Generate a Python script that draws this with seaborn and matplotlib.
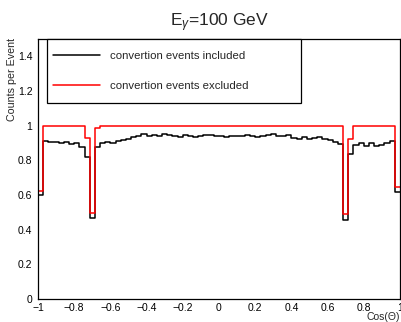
import numpy as np
import pandas as pd
import matplotlib
matplotlib.use("Agg")
import matplotlib.pyplot as plt
from matplotlib.lines import Line2D
from matplotlib.patches import Rectangle
from matplotlib.ticker import MultipleLocator, FuncFormatter
import seaborn as sns

# ---- data (70 bins in cos(theta) from -1 to 1) ----
n_bins = 70
x_min, x_max = -1.0, 1.0

included = [
    0.600, 0.912, 0.905, 0.908, 0.898, 0.903, 0.896, 0.902, 0.878, 0.822,
    0.466, 0.876, 0.900, 0.905, 0.898, 0.910, 0.920, 0.925, 0.935, 0.940,
    0.950, 0.942, 0.945, 0.938, 0.950, 0.944, 0.940, 0.936, 0.945, 0.941,
    0.935, 0.938, 0.945, 0.946, 0.942, 0.940, 0.935, 0.940, 0.943, 0.938,
    0.945, 0.940, 0.932, 0.940, 0.945, 0.950, 0.942, 0.938, 0.944, 0.930,
    0.925, 0.935, 0.925, 0.930, 0.932, 0.922, 0.915, 0.908, 0.895, 0.456,
    0.835, 0.890, 0.900, 0.880, 0.898, 0.885, 0.890, 0.900, 0.910, 0.615,
]
excluded = [
    0.625, 1.000, 0.998, 1.000, 0.999, 0.998, 0.997, 0.998, 0.996, 0.930,
    0.498, 0.988, 0.997, 1.000, 0.999, 1.000, 0.998, 1.000, 1.000, 0.999,
    0.998, 1.000, 0.997, 0.999, 1.000, 0.998, 0.996, 0.999, 1.000, 0.998,
    0.997, 1.000, 0.999, 0.998, 1.000, 0.997, 0.999, 1.000, 0.998, 0.996,
    0.999, 1.000, 0.997, 0.998, 1.000, 0.999, 0.997, 0.998, 0.997, 0.996,
    0.997, 0.999, 0.996, 0.997, 0.998, 0.999, 0.999, 0.998, 0.997, 0.489,
    0.925, 1.000, 0.999, 1.000, 0.998, 1.000, 0.999, 1.000, 0.998, 0.645,
]
labels = ["convertion events included", "convertion events excluded"]
colors = ["black", "red"]
title = r"E$_{\gamma}$=100 GeV"
xlabel = "Cos(\u0398)"
ylabel = "Counts per Event"

edges = np.linspace(x_min, x_max, n_bins + 1)
centers = 0.5 * (edges[:-1] + edges[1:])
df = pd.DataFrame({
    "cos": np.concatenate([centers, centers]),
    "w": np.concatenate([included, excluded]),
    "set": [labels[0]] * n_bins + [labels[1]] * n_bins,
})

sns.set_theme(style="white")
plt.rcParams["font.family"] = ["Liberation Sans", "DejaVu Sans"]
plt.rcParams["mathtext.fontset"] = "custom"
plt.rcParams["mathtext.rm"] = "Liberation Sans"
plt.rcParams["mathtext.it"] = "Liberation Sans:italic"

W, H = 402, 322
L, R, T, B = 38, 400, 39, 299
fig = plt.figure(figsize=(W / 100, H / 100), dpi=100)
ax = fig.add_axes([L / W, (H - B) / H, (R - L) / W, (B - T) / H])

for lab, col in zip(labels, colors):
    sub = df[df["set"] == lab]
    sns.histplot(data=sub, x="cos", weights="w", bins=n_bins,
                 binrange=(x_min, x_max), element="step",
                 fill=False, color=col, linewidth=1.1, ax=ax)

ax.set_xlim(x_min, x_max)
ax.set_ylim(0, 1.5)
ax.xaxis.set_major_locator(MultipleLocator(0.2))
ax.xaxis.set_minor_locator(MultipleLocator(0.04))
ax.yaxis.set_major_locator(MultipleLocator(0.2))
ax.yaxis.set_minor_locator(MultipleLocator(0.05))
fmt = FuncFormatter(lambda v, p: ("%g" % round(v, 6)).replace("-", "\u2212"))
ax.xaxis.set_major_formatter(fmt)
ax.yaxis.set_major_formatter(fmt)
ax.tick_params(axis="both", which="both", direction="in", top=False, right=False,
               labelsize=7.5, colors="black", width=0.8)
ax.tick_params(axis="x", which="major", length=5.6, pad=3)
ax.tick_params(axis="x", which="minor", length=2.8)
ax.tick_params(axis="y", which="major", length=7.8, pad=4)
ax.tick_params(axis="y", which="minor", length=3.9)
for s in ax.spines.values():
    s.set_color("black")
    s.set_linewidth(0.9)

ax.set_xlabel(xlabel, fontsize=7.5, ha="right", va="center")
ax.xaxis.set_label_coords(1.0, (B - 317) / (B - T))
ax.set_ylabel(ylabel, fontsize=7.7, ha="right", va="center")
ax.yaxis.set_label_coords((12 - L) / (R - L), 1.0 + 1 / (B - T))
ax.set_title(title, fontsize=12.5, pad=9)

# legend box (ROOT-style TLegend)
box = Rectangle(((47 - L) / (R - L), (B - 103) / (B - T)),
                (301 - 47) / (R - L), (103 - T) / (B - T),
                transform=ax.transAxes, facecolor="white", edgecolor="black",
                linewidth=0.9, zorder=5, clip_on=False)
ax.add_patch(box)
handles = [Line2D([], [], color=c, lw=1.1) for c in colors]
leg = ax.legend(handles, labels, loc="upper left",
                bbox_to_anchor=((53 - L) / (R - L), (B - 51.3) / (B - T)),
                fontsize=8.2, frameon=False, borderpad=0, labelspacing=1.72,
                handlelength=4.1, handletextpad=0.88, borderaxespad=0)
leg.set_zorder(6)

fig.savefig("out.png", dpi=100, facecolor="white")
